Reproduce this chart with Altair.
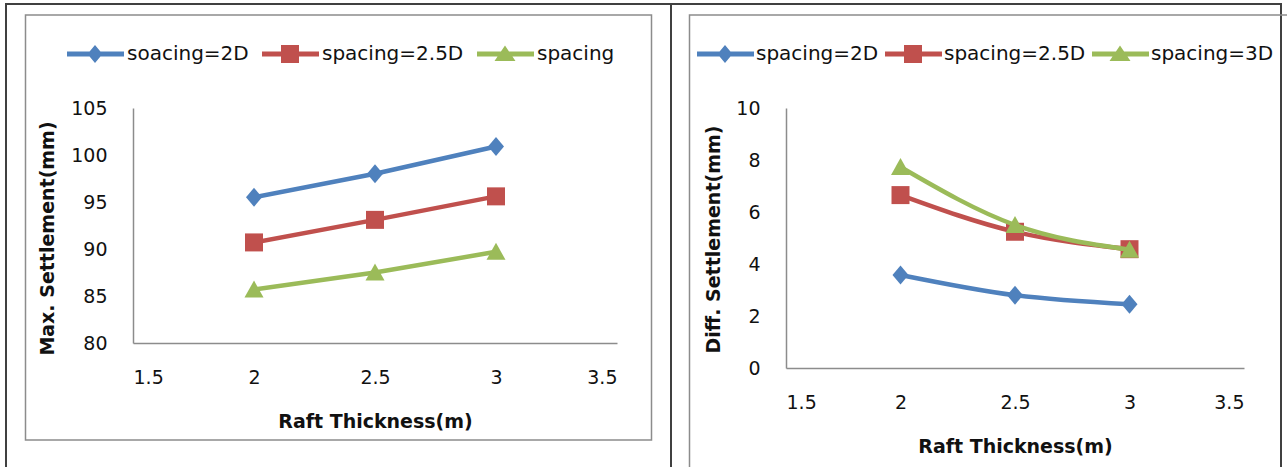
import altair as alt
import pandas as pd

# Raft thickness (m) on the x axis of both panels
thickness = [2.0, 2.5, 3.0]

# Left panel: maximum settlement (mm)
max_labels = ["soacing=2D", "spacing=2.5D", "spacing"]
max_2d = [95.5, 98.0, 100.9]
max_25d = [90.7, 93.1, 95.6]
max_3d = [85.7, 87.5, 89.7]

# Right panel: differential settlement (mm)
diff_labels = ["spacing=2D", "spacing=2.5D", "spacing=3D"]
diff_2d = [3.58, 2.80, 2.45]
diff_25d = [6.65, 5.24, 4.57]
diff_3d = [7.73, 5.50, 4.55]

x_ticks = [1.5, 2, 2.5, 3, 3.5]
max_ticks = [80, 85, 90, 95, 100, 105]
diff_ticks = [0, 2, 4, 6, 8, 10]

colors = ["#4F81BD", "#C0504D", "#9BBB59"]

# Marker outlines (diamond, square, triangle) as symbol paths
marker_paths = [
    "M0,-1.9L1.6,0L0,1.9L-1.6,0Z",
    "M-1.8,-1.8L1.8,-1.8L1.8,1.8L-1.8,1.8Z",
    "M0,-1.8L1.9,1.6L-1.9,1.6Z",
]
# Legend keys: a short line segment with the marker in its middle
LINE_KEY = "M-1,-0.5L10.4,-0.5L10.4,0.5L-1,0.5Z"
legend_paths = [
    LINE_KEY + "M4.6,-1.8L6.1,0L4.6,1.8L3.1,0Z",
    LINE_KEY + "M2.8,-1.8L6.4,-1.8L6.4,1.8L2.8,1.8Z",
    LINE_KEY + "M4.6,-1.7L6.7,1.4L2.5,1.4Z",
]

FONT = "DejaVu Sans"
AXIS_GREY = "#8c8c8c"


def panel(labels, series, width, height, y_domain, y_ticks, y_title,
          interp, legend_x, col_pad, label_off, y_title_x, y_title_y):
    df = pd.DataFrame({
        "thickness": thickness * len(series),
        "value": [v for s in series for v in s],
        "series": [lab for lab in labels for _ in thickness],
    })
    x_enc = alt.X(
        "thickness:Q",
        scale=alt.Scale(domain=[1.5, 3.5], nice=False, zero=False),
        axis=alt.Axis(
            values=x_ticks, format="~g", title="Raft Thickness(m)",
            grid=False, ticks=False, tickSize=0, labelPadding=25,
            domainColor=AXIS_GREY, domainWidth=1.5,
            labelFont=FONT, labelFontSize=19, labelColor="#111",
            titleFont=FONT, titleFontSize=19, titleFontWeight="bold",
            titleColor="#111", titleBaseline="alphabetic",
            titleX=width / 2, titleY=84, titleAlign="center",
        ),
    )
    y_enc = alt.Y(
        "value:Q",
        scale=alt.Scale(domain=y_domain, nice=False, zero=False),
        axis=alt.Axis(
            values=y_ticks, format="d", title=y_title,
            grid=False, ticks=False, tickSize=0, labelPadding=26,
            domainColor=AXIS_GREY, domainWidth=1.5,
            labelFont=FONT, labelFontSize=19, labelColor="#111",
            titleFont=FONT, titleFontSize=19, titleFontWeight="bold",
            titleColor="#111", titleAngle=270, titleBaseline="alphabetic",
            titleX=y_title_x, titleY=y_title_y, titleAlign="center",
        ),
    )
    base = alt.Chart(df).encode(x=x_enc, y=y_enc)

    layers = []
    for lab, col, mk in zip(labels, colors, marker_paths):
        s = base.transform_filter(alt.datum.series == lab)
        layers.append(s.mark_line(color=col, strokeWidth=4.5, interpolate=interp,
                                  strokeCap="round", strokeJoin="round"))
        layers.append(s.mark_point(filled=True, opacity=1, color=col,
                                   shape=mk, size=100, strokeWidth=0))

    leg = alt.Legend(
        orient="none", legendX=legend_x, legendY=-64, direction="horizontal",
        title=None, labelFont=FONT, labelFontSize=20, labelColor="#111",
        labelOffset=label_off, symbolSize=100, symbolStrokeWidth=0, symbolOpacity=1,
        columnPadding=col_pad, padding=0, labelLimit=400,
    )
    key_layer = base.transform_filter("datum.value < -1000").mark_point(
        filled=True, size=100, opacity=1
    ).encode(
        color=alt.Color("series:N", scale=alt.Scale(domain=labels, range=colors), legend=leg),
        shape=alt.Shape("series:N", scale=alt.Scale(domain=labels, range=legend_paths), legend=leg),
    )
    layers.append(key_layer)
    return layers


one_row = pd.DataFrame({"k": [0]})

left_layers = panel(max_labels, [max_2d, max_25d, max_3d], 484, 235,
                    [80, 105], max_ticks, "Max. Settlement(mm)",
                    "linear", -71, 8, 45, -80, 130)
right_layers = panel(diff_labels, [diff_2d, diff_25d, diff_3d], 458, 260,
                     [0, 10], diff_ticks, "Diff. Settlement(mm)",
                     "monotone", -94, 1, 44, -67, 131)

# Page frame, divider and the two chart boxes
outer = alt.Chart(one_row).mark_rect(fillOpacity=0, stroke="#404040", strokeWidth=2).encode(
    x=alt.value(-127), x2=alt.value(1148), y=alt.value(-104), y2=alt.value(420))
divider = alt.Chart(one_row).mark_rule(color="#404040", strokeWidth=2).encode(
    x=alt.value(538), y=alt.value(-104), y2=alt.value(420))
left_box = alt.Chart(one_row).mark_rect(fillOpacity=0, stroke=AXIS_GREY, strokeWidth=1.5).encode(
    x=alt.value(-107.5), x2=alt.value(518.5), y=alt.value(-93), y2=alt.value(332))
right_box = alt.Chart(one_row).mark_rect(fillOpacity=0, stroke=AXIS_GREY, strokeWidth=1.5).encode(
    x=alt.value(-96.5), x2=alt.value(520), y=alt.value(-93), y2=alt.value(420))

left = alt.layer(outer, divider, left_box, *left_layers).properties(width=484, height=235)
right = alt.layer(right_box, *right_layers).properties(width=458, height=260)

chart = alt.hconcat(left, right, spacing=169, bounds="flush").resolve_scale(
    color="independent", shape="independent"
).properties(
    autosize=alt.AutoSizeParams(type="none"),
    padding={"left": 133, "top": 108, "right": 1154, "bottom": 359},
    background="white",
).configure_view(stroke=None)

chart.save("out.html", embed_options={"renderer": "svg", "actions": False})
